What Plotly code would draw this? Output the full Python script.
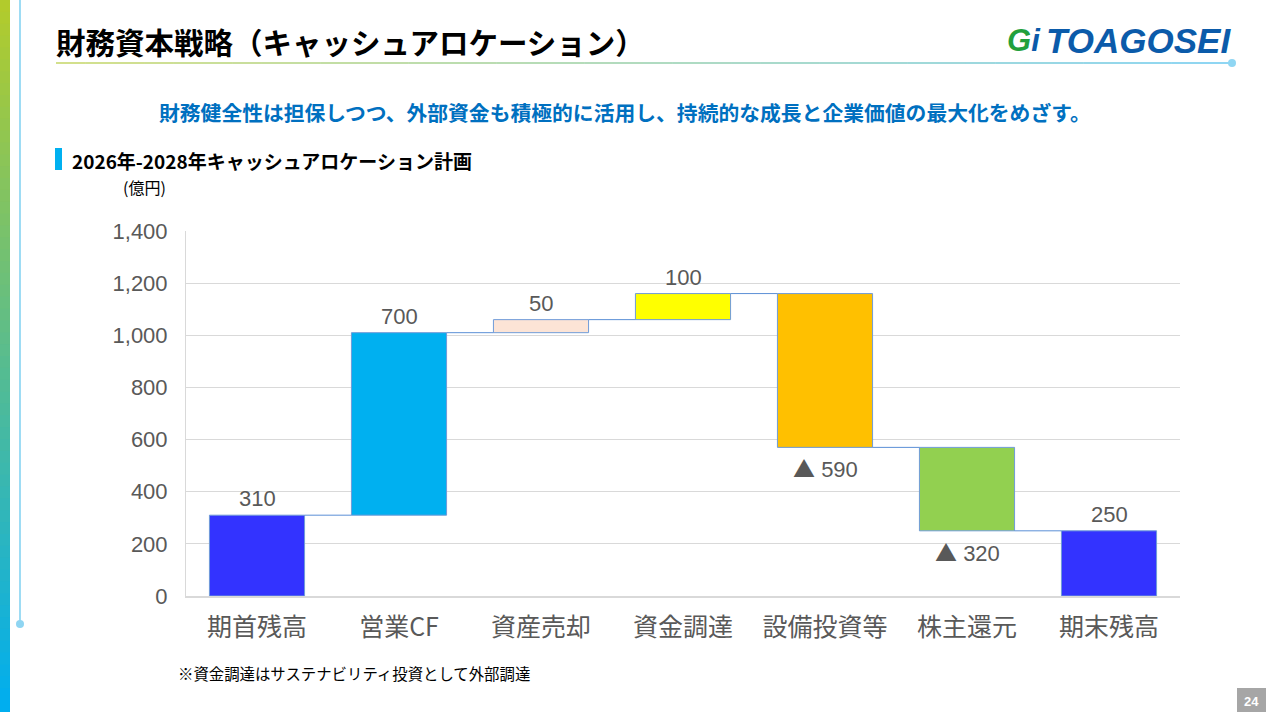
import plotly.graph_objects as go

# Cash allocation plan (億円)
categories = ["期首残高", "営業CF", "資産売却", "資金調達", "設備投資等", "株主還元", "期末残高"]
amounts = [310, 700, 50, 100, -590, -320, 250]
kinds = ["total", "relative", "relative", "relative", "relative", "relative", "total"]
bar_colors = ["#3333FF", "#00B0F0", "#FCE4D6", "#FFFF00", "#FFC000", "#92D050", "#3333FF"]
y_ticks = [0, 200, 400, 600, 800, 1000, 1200, 1400]

W, H = 1270, 712
L, R, T, B = 186, 90, 231, 116
PW, PH = W - L - R, H - T - B


def px(x):
    return (x - L) / PW


def py(y):
    return (H - B - y) / PH


def mix(c1, c2, t):
    a = [int(c1[i:i + 2], 16) for i in (1, 3, 5)]
    b = [int(c2[i:i + 2], 16) for i in (1, 3, 5)]
    return "#%02x%02x%02x" % tuple(round(a[k] + (b[k] - a[k]) * t) for k in range(3))


# compute waterfall bases / heights
bases, heights, levels = [], [], []
cum = 0
for v, k in zip(amounts, kinds):
    if k == "total":
        bases.append(0)
        heights.append(v)
        cum = v
    else:
        if v >= 0:
            bases.append(cum)
            heights.append(v)
        else:
            bases.append(cum + v)
            heights.append(-v)
        cum += v
    levels.append(cum)

idx = list(range(len(categories)))
bw = 0.67
jp = "Noto Sans CJK JP"
num_font = "Liberation Sans, Arial"

fig = go.Figure()

# connectors
cx, cy = [], []
for i in range(len(idx) - 1):
    cx += [i + bw / 2, i + 1 - bw / 2, None]
    cy += [levels[i], levels[i], None]
fig.add_trace(go.Scatter(x=cx, y=cy, mode="lines", line=dict(color="#5B8FD6", width=1),
                         hoverinfo="skip", showlegend=False))

fig.add_trace(go.Bar(x=idx, y=heights, base=bases, width=bw,
                     marker=dict(color=bar_colors, line=dict(color="#6F9BD8", width=1)),
                     showlegend=False, hoverinfo="skip"))

# value labels (annotations anchored to the data)
annotations = []
for i, (v, b, h) in enumerate(zip(amounts, bases, heights)):
    if v >= 0:
        annotations.append(dict(x=i, y=b + h, xref="x", yref="y", text=f"{v:,}",
                                yanchor="bottom", yshift=2, showarrow=False,
                                font=dict(size=22, color="#595959", family=num_font)))
    else:
        annotations.append(dict(x=i, y=b, xref="x", yref="y",
                                text=f"<span style='font-family:{jp}'>▲</span> {-v:,}",
                                yanchor="top", yshift=-2, showarrow=False,
                                font=dict(size=22, color="#595959", family=num_font)))

shapes = []
# left vertical gradient bar
n = 60
for k in range(n):
    y0 = H * k / n
    y1 = H * (k + 1) / n + 1.5
    shapes.append(dict(type="rect", xref="paper", yref="paper", x0=px(0), x1=px(10),
                       y0=py(y1), y1=py(y0), line=dict(width=0),
                       fillcolor=mix("#B2CB2C", "#00AEEF", k / (n - 1)), layer="below"))
# thin vertical line + dot
shapes.append(dict(type="line", xref="paper", yref="paper", x0=px(20), x1=px(20),
                   y0=py(0), y1=py(624), line=dict(color="#9EDCF4", width=2)))
shapes.append(dict(type="circle", xref="paper", yref="paper", x0=px(16), x1=px(24),
                   y0=py(628), y1=py(620), line=dict(width=0), fillcolor="#8FD5F2"))
# header gradient underline
m = 40
x_start, x_end = 56, 1230
for k in range(m):
    xa = x_start + (x_end - x_start) * k / m
    xb = x_start + (x_end - x_start) * (k + 1) / m + 0.5
    shapes.append(dict(type="line", xref="paper", yref="paper", x0=px(xa), x1=px(xb),
                       y0=py(63), y1=py(63),
                       line=dict(color=mix("#D3E08C", "#8FD6F3", k / (m - 1)), width=2)))
shapes.append(dict(type="circle", xref="paper", yref="paper", x0=px(1228), x1=px(1236),
                   y0=py(67), y1=py(59), line=dict(width=0), fillcolor="#8FD6F3"))
# section marker
shapes.append(dict(type="rect", xref="paper", yref="paper", x0=px(55), x1=px(62),
                   y0=py(170), y1=py(148), line=dict(width=0), fillcolor="#00B0F0"))
# page number box
shapes.append(dict(type="rect", xref="paper", yref="paper", x0=px(1237), x1=px(1266),
                   y0=py(713), y1=py(688), line=dict(width=0), fillcolor="#A6A6A6"))

page_text = [
    dict(x=px(54), y=py(41), text="<b>財務資本戦略（キャッシュアロケーション）</b>", xanchor="left",
         font=dict(size=29.5, color="#000000", family=jp)),
    dict(x=px(625), y=py(112), text="<b>財務健全性は担保しつつ、外部資金も積極的に活用し、持続的な成長と企業価値の最大化をめざす。</b>",
         xanchor="center", font=dict(size=20.8, color="#0070C0", family=jp)),
    dict(x=px(70), y=py(160), text="<b>2026年-2028年キャッシュアロケーション計画</b>", xanchor="left",
         font=dict(size=19, color="#000000", family=jp)),
    dict(x=px(121), y=py(187), text="(億円)", xanchor="left",
         font=dict(size=16, color="#000000", family=jp)),
    dict(x=px(176), y=py(673), text="※資金調達はサステナビリティ投資として外部調達", xanchor="left",
         font=dict(size=15.4, color="#000000", family=jp)),
    dict(x=px(1251), y=py(701), text="<b>24</b>", xanchor="center",
         font=dict(size=13, color="#FFFFFF", family=num_font)),
    dict(x=px(1233), y=py(40), text="<b><i>TOAGOSEI</i></b>", xanchor="right",
         font=dict(size=35, color="#0B5BAA", family=num_font)),
    dict(x=px(1024), y=py(40), text="<b><i><span style='color:#22A03C'>G</span><span style='color:#0B5BAA'>i</span></i></b>",
         xanchor="center", font=dict(size=31, family=num_font)),
]
for a in page_text:
    a.update(xref="paper", yref="paper", yanchor="middle", showarrow=False)
annotations += page_text

fig.update_layout(
    width=W, height=H,
    margin=dict(l=L, r=R, t=T, b=B),
    paper_bgcolor="#FFFFFF", plot_bgcolor="#FFFFFF",
    shapes=shapes, annotations=annotations,
    xaxis=dict(range=[-0.5, len(categories) - 0.5], tickvals=idx, ticktext=categories,
               showgrid=False, zeroline=False, showline=True, linecolor="#D9D9D9", linewidth=2,
               ticks="", ticklabelstandoff=8,
               tickfont=dict(size=25, color="#595959", family=jp)),
    yaxis=dict(range=[0, 1400], tickvals=y_ticks, tickformat=",", showgrid=True,
               gridcolor="#D9D9D9", gridwidth=1, zeroline=False, showline=True,
               linecolor="#D9D9D9", linewidth=1, ticks="", ticklabelstandoff=13,
               tickfont=dict(size=22, color="#595959", family=num_font)),
)

fig.write_html("out.html", config={"displayModeBar": False},
               post_script="document.body.style.margin='0';")
